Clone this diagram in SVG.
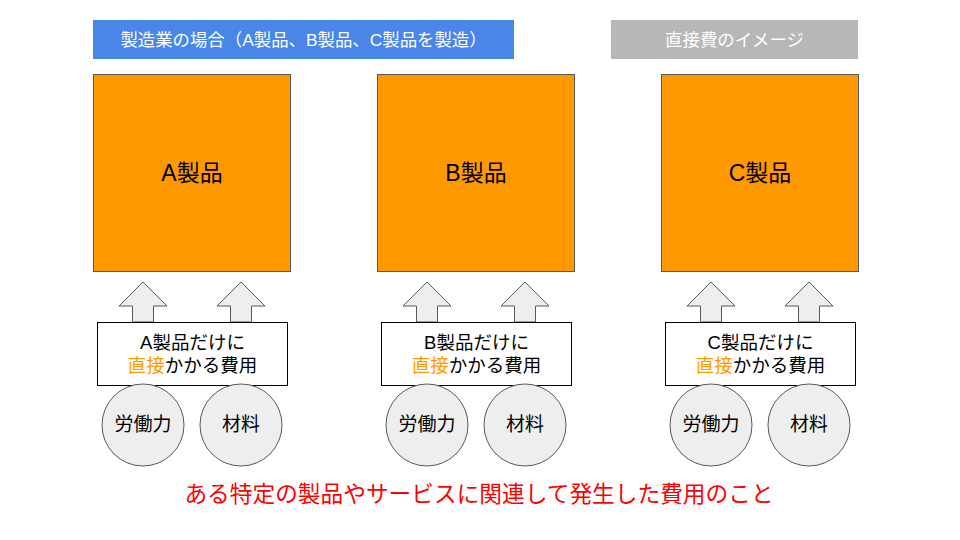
<svg xmlns="http://www.w3.org/2000/svg" width="960" height="540" viewBox="0 0 960 540">
<style>
text{font-family:"Liberation Sans","Noto Sans CJK JP",sans-serif;text-anchor:middle;dominant-baseline:central}
.hdr{font-size:17.4px;fill:#ffffff}
.prod{fill:#ff9900;stroke:#595959;stroke-width:1}
.plabel{font-size:23px;fill:#000}
.arrow{fill:#eeeeee;stroke:#595959;stroke-width:1}
.tbox{fill:#ffffff;stroke:#000;stroke-width:1}
.tl{font-size:18.5px;fill:#000}
.or{fill:#ff9900}
.circ{fill:#eeeeee;stroke:#595959;stroke-width:1}
.cl{font-size:19px;fill:#000}
</style>
<rect width="960" height="540" fill="#ffffff"/>
<g id="header-left">
<rect x="93" y="20" width="421" height="39" fill="#4a86e8"/>
<text class="hdr" x="303.5" y="40">製造業の場合（A製品、B製品、C製品を製造）</text>
</g>
<g id="header-right">
<rect x="611" y="20" width="247" height="39" fill="#b7b7b7"/>
<text class="hdr" x="734.5" y="40">直接費のイメージ</text>
</g>
<g id="connectors">
<path class="arrow" d="M143,282 L167,306 L153.5,306 L153.5,322 L132.5,322 L132.5,306 L119,306 Z"/>
<path class="arrow" d="M241,282 L265,306 L251.5,306 L251.5,322 L230.5,322 L230.5,306 L217,306 Z"/>
<path class="arrow" d="M427,282 L451,306 L437.5,306 L437.5,322 L416.5,322 L416.5,306 L403,306 Z"/>
<path class="arrow" d="M525,282 L549,306 L535.5,306 L535.5,322 L514.5,322 L514.5,306 L501,306 Z"/>
<path class="arrow" d="M711,282 L735,306 L721.5,306 L721.5,322 L700.5,322 L700.5,306 L687,306 Z"/>
<path class="arrow" d="M809,282 L833,306 L819.5,306 L819.5,322 L798.5,322 L798.5,306 L785,306 Z"/>
</g>
<g id="product-a">
<rect class="prod" x="93.5" y="74.5" width="197" height="197"/>
<text class="plabel" x="192" y="173">A製品</text>
</g>
<g id="product-b">
<rect class="prod" x="377.5" y="74.5" width="197" height="197"/>
<text class="plabel" x="476" y="173">B製品</text>
</g>
<g id="product-c">
<rect class="prod" x="661.5" y="74.5" width="197" height="197"/>
<text class="plabel" x="760" y="173">C製品</text>
</g>
<g id="cost-a">
<rect class="tbox" x="97.5" y="322.5" width="190" height="63"/>
<text class="tl" x="192.5" y="342">A製品だけに</text>
<text class="tl" x="192.5" y="365"><tspan class="or">直接</tspan>かかる費用</text>
</g>
<g id="cost-b">
<rect class="tbox" x="381.5" y="322.5" width="190" height="63"/>
<text class="tl" x="476.5" y="342">B製品だけに</text>
<text class="tl" x="476.5" y="365"><tspan class="or">直接</tspan>かかる費用</text>
</g>
<g id="cost-c">
<rect class="tbox" x="665.5" y="322.5" width="190" height="63"/>
<text class="tl" x="760.5" y="342">C製品だけに</text>
<text class="tl" x="760.5" y="365"><tspan class="or">直接</tspan>かかる費用</text>
</g>
<g id="labor-a"><circle class="circ" cx="143" cy="425" r="41"/><text class="cl" x="143" y="424">労働力</text></g>
<g id="material-a"><circle class="circ" cx="241" cy="425" r="41"/><text class="cl" x="241" y="424">材料</text></g>
<g id="labor-b"><circle class="circ" cx="427" cy="425" r="41"/><text class="cl" x="427" y="424">労働力</text></g>
<g id="material-b"><circle class="circ" cx="525" cy="425" r="41"/><text class="cl" x="525" y="424">材料</text></g>
<g id="labor-c"><circle class="circ" cx="711" cy="425" r="41"/><text class="cl" x="711" y="424">労働力</text></g>
<g id="material-c"><circle class="circ" cx="809" cy="425" r="41"/><text class="cl" x="809" y="424">材料</text></g>
<g id="definition">
<text x="479" y="494" style="font-size:22.7px;fill:#ff0000">ある特定の製品やサービスに関連して発生した費用のこと</text>
</g>
</svg>
